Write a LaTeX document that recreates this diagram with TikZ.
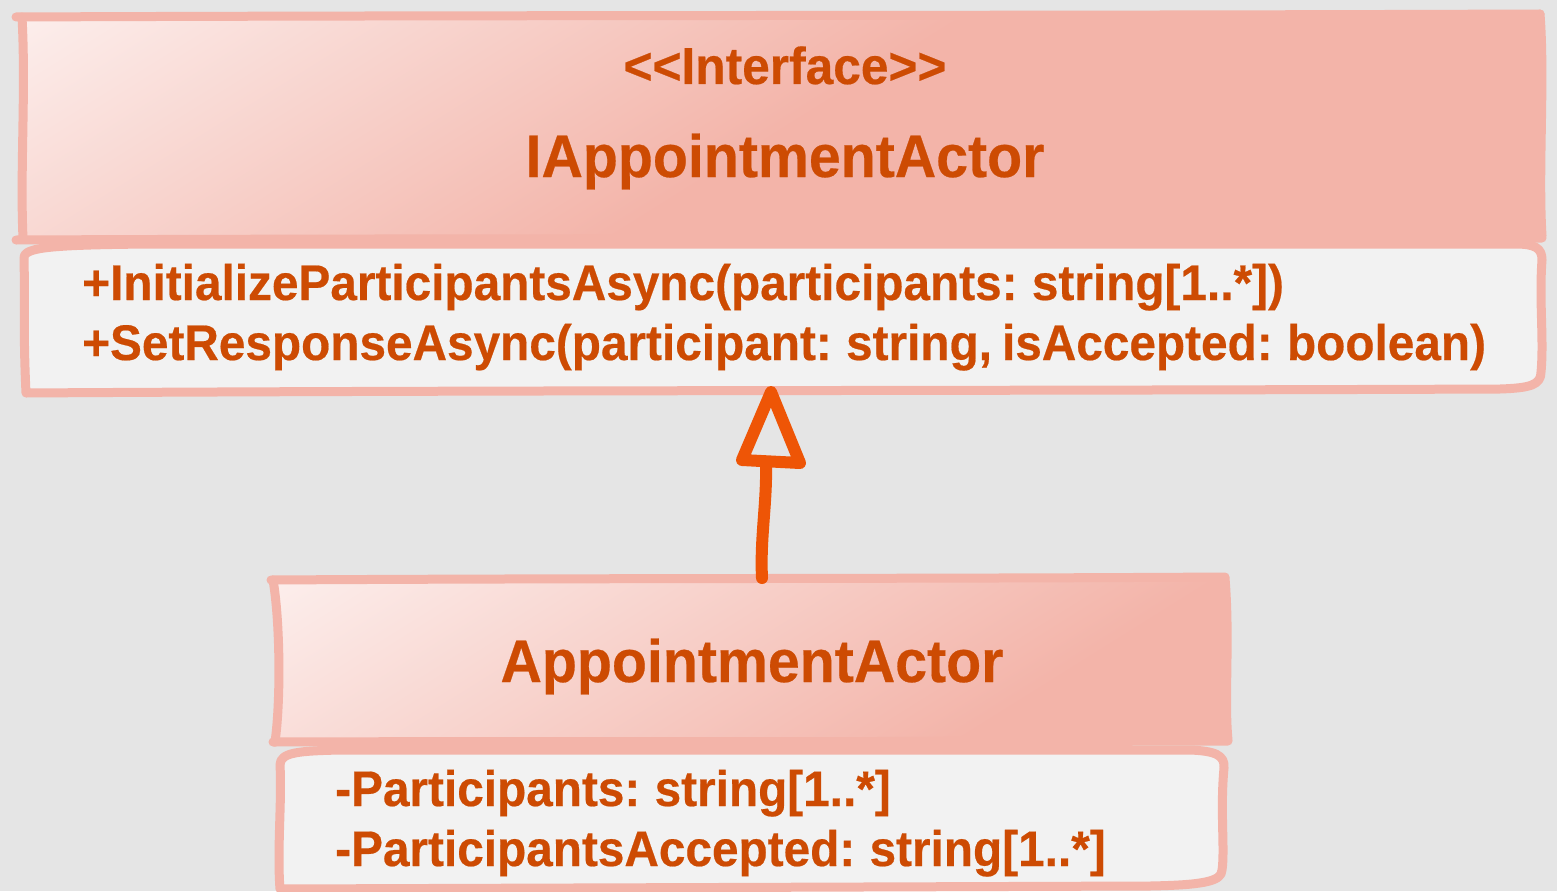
\documentclass[tikz,border=0pt]{standalone}
\usepackage{fontspec}
\newfontfamily\umlfont{Liberation Sans}[FakeStretch=0.955, WordSpace=0.75, BoldFeatures={FakeBold=0.4}]
\usetikzlibrary{calc}

\definecolor{canvasgray}{HTML}{E5E5E5}
\definecolor{bodyfill}{HTML}{F2F2F2}
\definecolor{edgesalmon}{HTML}{F3B4A9}
\definecolor{hdrsalmon}{HTML}{F3B4A9}
\definecolor{hdrlight}{HTML}{FCEEEC}
\definecolor{hdrmid}{HTML}{F8DAD5}
\definecolor{txtorange}{HTML}{CD4B03}
\definecolor{arroworange}{HTML}{EE5506}

\tikzset{
  edge/.style={draw=edgesalmon, line width=9pt, line cap=round, line join=round},
  arrowline/.style={draw=arroworange, line width=12pt, line cap=round, line join=round},
  boxarea/.style={draw=none, inner sep=0pt, outer sep=0pt},
  member/.style={text=txtorange, inner sep=0pt, font=\umlfont\bfseries\fontsize{50}{60}\selectfont},
  stereo/.style={text=txtorange, inner sep=0pt, font=\umlfont\bfseries\fontsize{52}{62}\selectfont},
  classname/.style={text=txtorange, inner sep=0pt, font=\umlfont\bfseries\fontsize{60}{72}\selectfont},
  hdrshade/.style={left color=hdrlight, middle color=hdrmid, right color=hdrsalmon}
}

\begin{document}
\begin{tikzpicture}[x=1pt, y=-1pt]
  \fill[canvasgray] (0,0) rectangle (1557,891);
  \useasboundingbox (0,0) rectangle (1557,891);

  % class areas used as connector anchors
  \node[boxarea, minimum width=1525pt, minimum height=378pt] (ifc) at (782.5,203) {};
  \node[boxarea, minimum width=955pt, minimum height=311pt] (impl) at (750.5,733.5) {};

  % ---------- interface: header ----------
  \begin{scope}
    \clip (22,17) -- (1540,14) .. controls (1545,80) and (1538,170) .. (1542,238)
          -- (23,240) .. controls (20,170) and (26,90) .. (22,17) -- cycle;
    \fill[hdrsalmon] (0,0) rectangle (1557,300);
    \begin{scope}[transform canvas={shift={(22,17)}, rotate=-58}]
      \shade[hdrshade] (0,-1200) rectangle (500,1200);
    \end{scope}
  \end{scope}
  \draw[edge] (16,17) .. controls (500,15) and (1000,16) .. (1540,14);
  \draw[edge] (1540,14) .. controls (1545,80) and (1538,170) .. (1542,236);
  \draw[edge] (1542,238) .. controls (1000,239) and (500,238) .. (16,240);
  \draw[edge] (23,238) .. controls (20,170) and (26,90) .. (22,17);

  % ---------- interface: members ----------
  \filldraw[edge, fill=bodyfill]
    (24,260) .. controls (22,248) and (40,245) .. (150,244)
    -- (1515,244) .. controls (1535,244) and (1542,248) .. (1542,260)
    .. controls (1539,300) and (1544,340) .. (1541,372)
    .. controls (1541,385) and (1530,388) .. (1500,389)
    .. controls (1000,391) and (500,390) .. (26,393)
    .. controls (23,330) and (25,290) .. (24,260) -- cycle;

  % ---------- implementation: header ----------
  \begin{scope}
    \clip (275,579) -- (1225,577) .. controls (1230,640) and (1224,700) .. (1228,741)
          -- (275,742) .. controls (281,700) and (280,620) .. (273,580) -- cycle;
    \fill[hdrsalmon] (250,560) rectangle (1250,760);
    \begin{scope}[transform canvas={shift={(275,579)}, rotate=-58}]
      \shade[hdrshade] (0,-1200) rectangle (500,1200);
    \end{scope}
  \end{scope}
  \draw[edge] (271,580) .. controls (600,578) and (900,579) .. (1225,577);
  \draw[edge] (1225,578) .. controls (1230,640) and (1224,700) .. (1228,740);
  \draw[edge] (1228,741) .. controls (900,742) and (600,741) .. (273,742);
  \draw[edge] (275,742) .. controls (281,700) and (280,620) .. (273,580);

  % ---------- implementation: members ----------
  \filldraw[edge, fill=bodyfill]
    (280,765) .. controls (280,752) and (300,751) .. (340,750)
    -- (1190,750) .. controls (1215,751) and (1225,755) .. (1224,768)
    .. controls (1220,810) and (1225,850) .. (1222,870)
    .. controls (1222,882) and (1200,885) .. (1150,886)
    -- (280,889)
    .. controls (277,850) and (282,800) .. (280,765) -- cycle;

  % ---------- texts ----------
  \node[stereo, anchor=base] (stereotype) at (785,84) {<{}<Interface>{}>};
  \node[classname, anchor=base] (ifcname) at (785,177) {IAppointmentActor};
  \node[member, anchor=base west] (op1) at (82,300) {+InitializeParticipantsAsync(participants: string[1..*])};
  \node[member, anchor=base west] (op2) at (82,360) {+SetResponseAsync(participant: string, isAccepted: boolean)};
  \node[classname, anchor=base] (implname) at (752,682) {AppointmentActor};
  \node[member, anchor=base west] (attr1) at (335,806) {-Participants: string[1..*]};
  \node[member, anchor=base west] (attr2) at (335,866) {-ParticipantsAccepted: string[1..*]};

  % ---------- realization arrow ----------
  \coordinate (tip) at ([xshift=-11.5pt]ifc.south);
  \coordinate (tail) at ([xshift=11.5pt]impl.north);
  \draw[arrowline] (tail) .. controls +(-2,-40) and +(1,40) .. ($(tip)+(-5,71)$);
  \draw[arrowline] (tip) -- ++(29,71) -- ++(-58,-3) -- cycle;
\end{tikzpicture}
\end{document}
